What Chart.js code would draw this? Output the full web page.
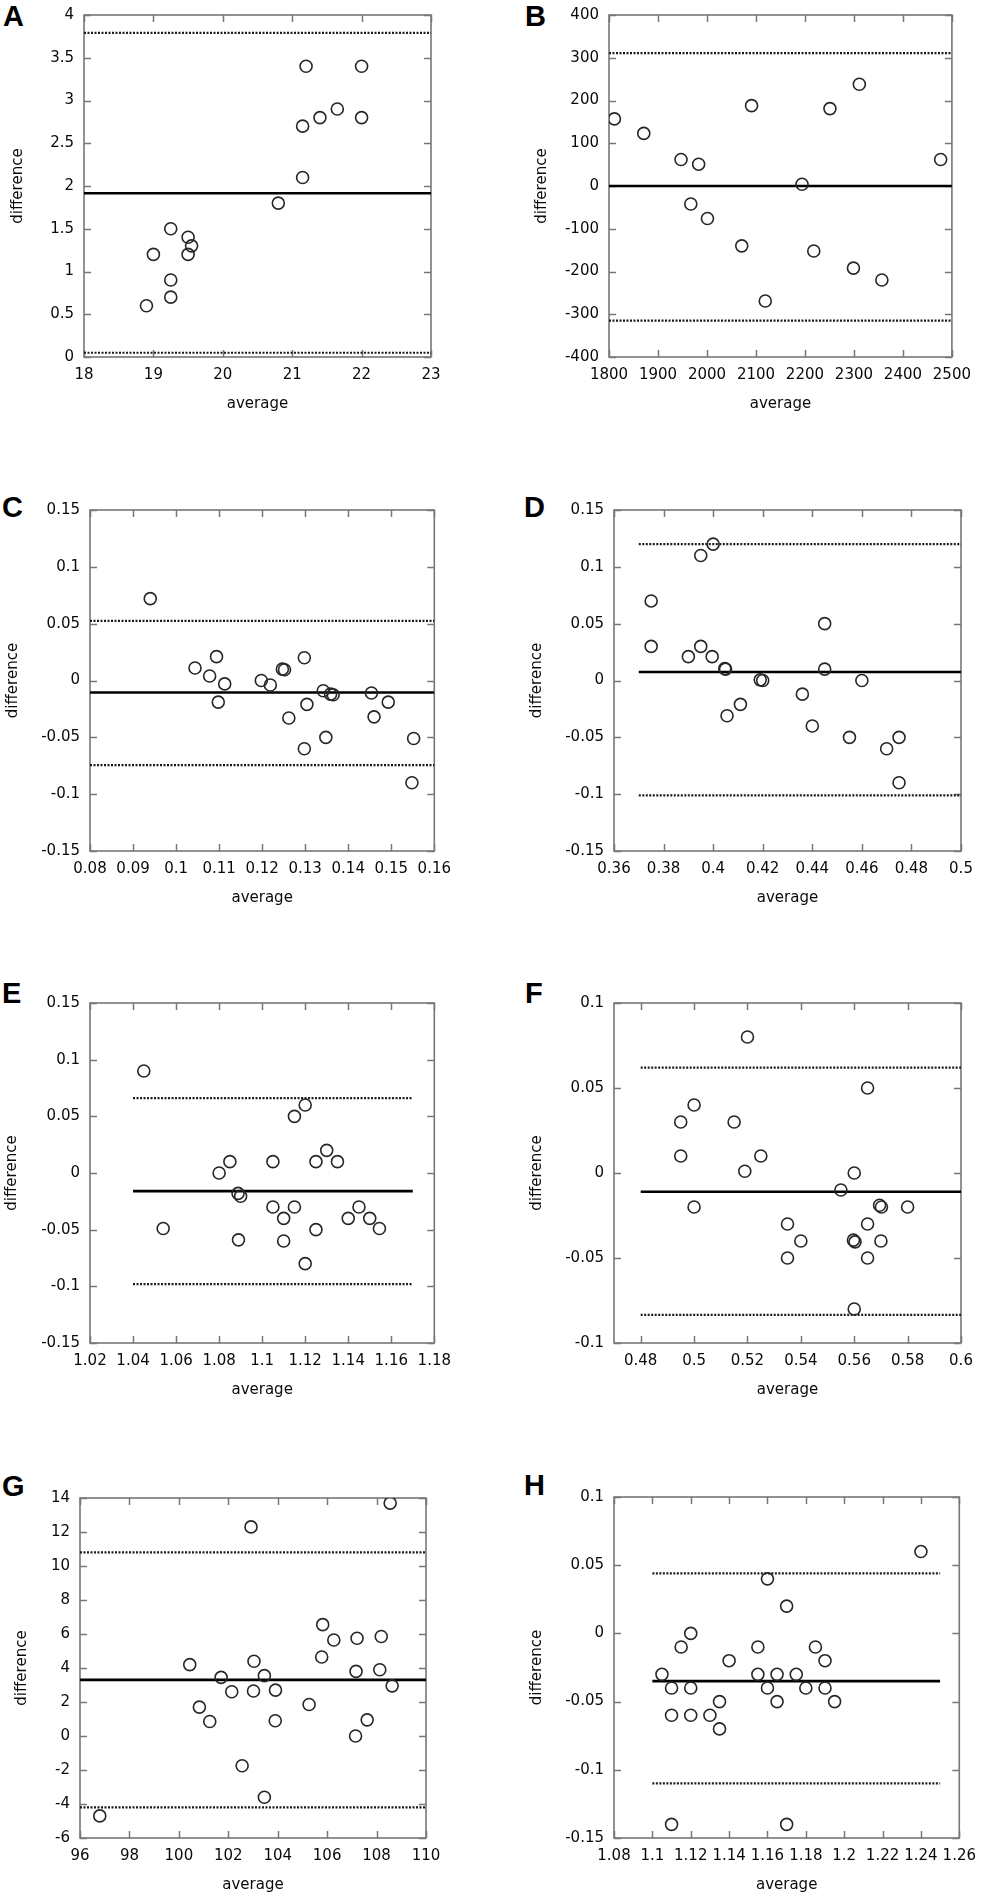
<!DOCTYPE html>
<html>
<head>
<meta charset="utf-8">
<script src="https://cdn.jsdelivr.net/npm/chart.js@4.4.0/dist/chart.umd.min.js"></script>
<style>
html,body{margin:0;padding:0;background:#fff;}
body{width:985px;height:1899px;position:relative;overflow:hidden;}
canvas{position:absolute;}
.lab{position:absolute;font-family:"Liberation Sans",Arial,sans-serif;font-weight:bold;font-size:29px;line-height:29px;color:#000;}
</style>
</head>
<body>
<div class="lab" style="left:3px;top:2px">A</div>
<div class="lab" style="left:525px;top:2px">B</div>
<div class="lab" style="left:2px;top:493px">C</div>
<div class="lab" style="left:524px;top:493px">D</div>
<div class="lab" style="left:2px;top:979px">E</div>
<div class="lab" style="left:525px;top:979px">F</div>
<div class="lab" style="left:2px;top:1472px">G</div>
<div class="lab" style="left:524px;top:1471px">H</div>
<script>
// ---------- DATA ----------
// Panel A
const avgA  = [18.9, 19.0, 19.25, 19.25, 19.25, 19.5, 19.5, 19.55, 20.8, 21.15, 21.15, 21.2, 21.4, 21.65, 22.0, 22.0];
const diffA = [0.6, 1.2, 1.5, 0.9, 0.7, 1.4, 1.2, 1.3, 1.8, 2.1, 2.7, 3.4, 2.8, 2.9, 3.4, 2.8];
const meanA = 1.915, upperA = 3.79, lowerA = 0.05;
const spanA = [18, 23];
const xTicksA = [18, 19, 20, 21, 22, 23];
const yTicksA = [0, 0.5, 1, 1.5, 2, 2.5, 3, 3.5, 4];

// Panel B
const avgB  = [1811, 1871, 1947, 1983, 1967, 2001, 2071, 2091, 2119, 2194, 2218, 2251, 2299, 2311, 2357, 2477];
const diffB = [157, 123, 62, 51, -42, -76, -140, 188, -269, 4, -152, 181, -192, 238, -220, 62];
const meanB = 0, upperB = 311, lowerB = -315;
const spanB = [1800, 2500];
const xTicksB = [1800, 1900, 2000, 2100, 2200, 2300, 2400, 2500];
const yTicksB = [-400, -300, -200, -100, 0, 100, 200, 300, 400];

// Panel C
const avgC  = [0.094, 0.1044, 0.1078, 0.1094, 0.1113, 0.1098, 0.1198, 0.1219, 0.1247, 0.1252, 0.1298, 0.1304, 0.1262, 0.1298, 0.1342, 0.1359, 0.1365, 0.1348, 0.1454, 0.146, 0.1493, 0.1552, 0.1548];
const diffC = [0.072, 0.011, 0.004, 0.021, -0.003, -0.019, 0.0, -0.004, 0.010, 0.0095, 0.020, -0.021, -0.033, -0.060, -0.009, -0.012, -0.0125, -0.050, -0.011, -0.032, -0.019, -0.051, -0.090];
const meanC = -0.0105, upperC = 0.0525, lowerC = -0.0745;
const spanC = [0.08, 0.16];
const xTicksC = [0.08, 0.09, 0.1, 0.11, 0.12, 0.13, 0.14, 0.15, 0.16];
const yTicksC = [-0.15, -0.1, -0.05, 0, 0.05, 0.1, 0.15];

// Panel D
const avgD  = [0.375, 0.375, 0.395, 0.400, 0.395, 0.390, 0.3996, 0.4047, 0.405, 0.419, 0.420, 0.4056, 0.411, 0.436, 0.440, 0.445, 0.445, 0.455, 0.460, 0.470, 0.475, 0.475];
const diffD = [0.070, 0.030, 0.110, 0.120, 0.030, 0.021, 0.021, 0.0105, 0.010, 0.0006, 0.0, -0.031, -0.021, -0.012, -0.040, 0.050, 0.010, -0.050, 0.0, -0.060, -0.050, -0.090];
const meanD = 0.0075, upperD = 0.120, lowerD = -0.101;
const spanD = [0.37, 0.5];
const xTicksD = [0.36, 0.38, 0.4, 0.42, 0.44, 0.46, 0.48, 0.5];
const yTicksD = [-0.15, -0.1, -0.05, 0, 0.05, 0.1, 0.15];

// Panel E
const avgE  = [1.045, 1.054, 1.080, 1.085, 1.0888, 1.090, 1.089, 1.105, 1.105, 1.110, 1.110, 1.115, 1.115, 1.120, 1.120, 1.125, 1.125, 1.130, 1.135, 1.140, 1.145, 1.150, 1.1545];
const diffE = [0.090, -0.049, 0.0, 0.010, -0.018, -0.0205, -0.059, 0.010, -0.030, -0.040, -0.060, 0.050, -0.030, 0.060, -0.080, 0.010, -0.050, 0.020, 0.010, -0.040, -0.030, -0.040, -0.049];
const meanE = -0.016, upperE = 0.066, lowerE = -0.098;
const spanE = [1.04, 1.17];
const xTicksE = [1.02, 1.04, 1.06, 1.08, 1.1, 1.12, 1.14, 1.16, 1.18];
const yTicksE = [-0.15, -0.1, -0.05, 0, 0.05, 0.1, 0.15];

// Panel F
const avgF  = [0.495, 0.495, 0.500, 0.500, 0.515, 0.520, 0.519, 0.525, 0.535, 0.535, 0.540, 0.555, 0.560, 0.5597, 0.5603, 0.560, 0.565, 0.565, 0.565, 0.5695, 0.5702, 0.570, 0.580];
const diffF = [0.030, 0.010, 0.040, -0.020, 0.030, 0.080, 0.001, 0.010, -0.030, -0.050, -0.040, -0.010, 0.0, -0.0395, -0.0405, -0.080, 0.050, -0.030, -0.050, -0.019, -0.020, -0.040, -0.020];
const meanF = -0.011, upperF = 0.062, lowerF = -0.0835;
const spanF = [0.48, 0.6];
const xTicksF = [0.48, 0.5, 0.52, 0.54, 0.56, 0.58, 0.6];
const yTicksF = [-0.1, -0.05, 0, 0.05, 0.1];

// Panel G
const avgG  = [96.8, 100.44, 100.83, 101.25, 101.71, 102.14, 102.56, 102.92, 103.02, 103.04, 103.46, 103.46, 103.91, 103.90, 105.27, 105.78, 105.82, 106.27, 107.15, 107.17, 107.21, 107.62, 108.13, 108.19, 108.55, 108.63];
const diffG = [-4.7, 4.2, 1.7, 0.85, 3.45, 2.6, -1.75, 12.3, 2.65, 4.4, 3.55, -3.6, 2.7, 0.9, 1.85, 4.65, 6.55, 5.65, 0.0, 3.8, 5.75, 0.95, 3.9, 5.85, 13.7, 2.95];
const meanG = 3.3, upperG = 10.8, lowerG = -4.2;
const spanG = [96, 110];
const xTicksG = [96, 98, 100, 102, 104, 106, 108, 110];
const yTicksG = [-6, -4, -2, 0, 2, 4, 6, 8, 10, 12, 14];

// Panel H
const avgH  = [1.105, 1.11, 1.11, 1.11, 1.115, 1.12, 1.12, 1.12, 1.13, 1.135, 1.135, 1.14, 1.155, 1.155, 1.16, 1.16, 1.165, 1.165, 1.17, 1.17, 1.175, 1.18, 1.185, 1.19, 1.19, 1.195, 1.24];
const diffH = [-0.03, -0.04, -0.06, -0.14, -0.01, 0, -0.04, -0.06, -0.06, -0.05, -0.07, -0.02, -0.01, -0.03, 0.04, -0.04, -0.03, -0.05, 0.02, -0.14, -0.03, -0.04, -0.01, -0.02, -0.04, -0.05, 0.06];
const meanH = -0.035, upperH = 0.044, lowerH = -0.110;
const spanH = [1.1, 1.25];
const xTicksH = [1.08, 1.1, 1.12, 1.14, 1.16, 1.18, 1.2, 1.22, 1.24, 1.26];
const yTicksH = [-0.15, -0.1, -0.05, 0, 0.05, 0.1];

// ---------- LAYOUT (pixel boxes of plot areas) ----------
const panels = [
  {x: avgA, y: diffA, mean: meanA, up: upperA, lo: lowerA, span: spanA, xt: xTicksA, yt: yTicksA, box: {l: 84, r: 431, t: 10, b: 357}, titleX: 18},
  {x: avgB, y: diffB, mean: meanB, up: upperB, lo: lowerB, span: spanB, xt: xTicksB, yt: yTicksB, box: {l: 609, r: 956, t: 10, b: 357}, titleX: 542},
  {x: avgC, y: diffC, mean: meanC, up: upperC, lo: lowerC, span: spanC, xt: xTicksC, yt: yTicksC, box: {l: 90, r: 436, t: 505, b: 851}, titleX: 13},
  {x: avgD, y: diffD, mean: meanD, up: upperD, lo: lowerD, span: spanD, xt: xTicksD, yt: yTicksD, box: {l: 614, r: 961, t: 505, b: 851}, titleX: 537},
  {x: avgE, y: diffE, mean: meanE, up: upperE, lo: lowerE, span: spanE, xt: xTicksE, yt: yTicksE, box: {l: 90, r: 436, t: 998, b: 1343}, titleX: 12},
  {x: avgF, y: diffF, mean: meanF, up: upperF, lo: lowerF, span: spanF, xt: xTicksF, yt: yTicksF, box: {l: 614, r: 961, t: 998, b: 1343}, titleX: 537, xmin: 0.47},
  {x: avgG, y: diffG, mean: meanG, up: upperG, lo: lowerG, span: spanG, xt: xTicksG, yt: yTicksG, box: {l: 80, r: 426, t: 1493, b: 1838}, titleX: 22},
  {x: avgH, y: diffH, mean: meanH, up: upperH, lo: lowerH, span: spanH, xt: xTicksH, yt: yTicksH, box: {l: 614, r: 961, t: 1492, b: 1838}, titleX: 537}
];

const FONT = {family: "'DejaVu Sans', Verdana, sans-serif", size: 15};
const TXT = '#0a0a0a';
const fmt = v => String(Number(v.toFixed(6)));

const framePlugin = {
  id: 'gpFrame',
  beforeDatasetsDraw(chart) {
    const {ctx, chartArea: a, scales} = chart;
    const xs = scales.x, ys = scales.y;
    const tl = 7;
    ctx.save();
    ctx.strokeStyle = '#777';
    ctx.lineWidth = 1.5;
    ctx.beginPath();
    xs.ticks.forEach(t => {
      const px = Math.round(xs.getPixelForValue(t.value)) + 0.5;
      ctx.moveTo(px, a.bottom); ctx.lineTo(px, a.bottom - tl);
      ctx.moveTo(px, a.top); ctx.lineTo(px, a.top + tl);
    });
    ys.ticks.forEach(t => {
      const py = Math.round(ys.getPixelForValue(t.value)) + 0.5;
      ctx.moveTo(a.left, py); ctx.lineTo(a.left + tl, py);
      ctx.moveTo(a.right, py); ctx.lineTo(a.right - tl, py);
    });
    ctx.stroke();
    ctx.lineWidth = 1.6;
    ctx.strokeRect(a.left, a.top, a.right - a.left, a.bottom - a.top);
    ctx.restore();
  }
};

function makePanel(p) {
  const padTop = 14, padRight = 24, Hx = 56;
  const cl = p.titleX - 9;
  const Wy = p.box.l - cl;
  const ct = p.box.t - padTop;
  const cw = Wy + (p.box.r - p.box.l) + padRight;
  const ch = padTop + (p.box.b - p.box.t) + Hx;
  const cv = document.createElement('canvas');
  cv.width = cw; cv.height = ch;
  cv.style.left = cl + 'px'; cv.style.top = ct + 'px';
  cv.style.width = cw + 'px'; cv.style.height = ch + 'px';
  document.body.appendChild(cv);

  const pts = p.x.map((v, i) => ({x: v, y: p.y[i]}));
  const hline = v => [{x: p.span[0], y: v}, {x: p.span[1], y: v}];

  new Chart(cv, {
    type: 'scatter',
    data: {
      datasets: [
        {data: pts, showLine: false, pointRadius: 6, pointHoverRadius: 6, pointBorderWidth: 1.6,
         pointBorderColor: '#262626', pointBackgroundColor: 'rgba(0,0,0,0)', borderColor: '#262626'},
        {type: 'line', data: hline(p.mean), borderColor: '#000', borderWidth: 2.6, pointRadius: 0, fill: false},
        {type: 'line', data: hline(p.up), borderColor: '#1a1a1a', borderWidth: 2.2, borderDash: [2, 1.5], pointRadius: 0, fill: false},
        {type: 'line', data: hline(p.lo), borderColor: '#1a1a1a', borderWidth: 2.2, borderDash: [2, 1.5], pointRadius: 0, fill: false}
      ]
    },
    options: {
      responsive: false,
      animation: false,
      events: [],
      layout: {padding: {top: padTop, right: padRight, left: 0, bottom: 0}},
      plugins: {legend: {display: false}, tooltip: {enabled: false}},
      scales: {
        x: {
          type: 'linear', position: 'bottom',
          min: p.xmin !== undefined ? p.xmin : p.xt[0], max: p.xt[p.xt.length - 1],
          afterBuildTicks: s => { s.ticks = p.xt.map(v => ({value: v})); },
          afterFit: s => { s.height = Hx; },
          grid: {display: false, drawTicks: false},
          border: {display: false},
          ticks: {padding: 9, font: FONT, color: TXT, callback: v => fmt(v), autoSkip: false, maxRotation: 0, minRotation: 0},
          title: {display: true, text: 'average', font: FONT, color: TXT, padding: 0}
        },
        y: {
          type: 'linear', position: 'left',
          min: p.yt[0], max: p.yt[p.yt.length - 1],
          afterBuildTicks: s => { s.ticks = p.yt.map(v => ({value: v})); },
          afterFit: s => { s.width = Wy; },
          grid: {display: false, drawTicks: false},
          border: {display: false},
          ticks: {padding: 10, font: FONT, color: TXT, callback: v => fmt(v), autoSkip: false},
          title: {display: true, text: 'difference', font: FONT, color: TXT, padding: 0}
        }
      }
    },
    plugins: [framePlugin]
  });
}

panels.forEach(makePanel);
</script>
</body>
</html>
